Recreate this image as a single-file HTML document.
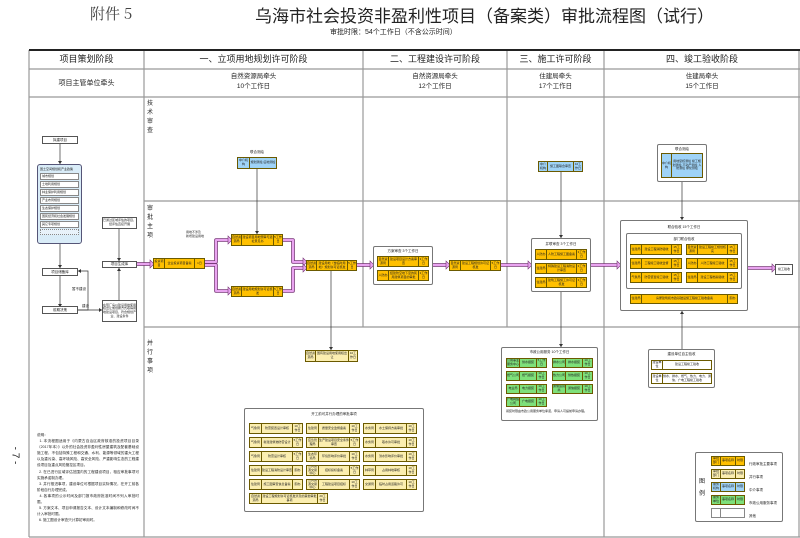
<!DOCTYPE html>
<html><head><meta charset="utf-8"><style>
*{margin:0;padding:0;box-sizing:border-box}
body{width:800px;height:538px;background:#fff;position:relative;overflow:hidden;font-family:"Liberation Sans","Noto Sans CJK SC",sans-serif;color:#222}
.a{position:absolute}
.t{position:absolute;white-space:nowrap;text-align:center}
.bx{position:absolute;border:1px solid #555;background:#fff;font-size:3.5px;display:flex;align-items:center;justify-content:center;text-align:center;line-height:1.2}
.grp{position:absolute;border:1.5px solid #777;background:#fff;border-radius:2px}
.row{position:absolute;display:flex;border:1px solid #6b5a00;font-size:3px;line-height:1.2}
.row div{display:flex;align-items:center;justify-content:center;text-align:center;border-right:1px solid #6b5a00;overflow:hidden}
.row div:last-child{border-right:none}
.o{background:#ffc000}.c{background:#fbeeb0}.b{background:#9fd3f7}.g{background:#7ee07a}
.gt{position:absolute;font-size:3.5px;white-space:nowrap;text-align:center;width:100%}
.vl{position:absolute;font-size:6px;line-height:9px;width:7px}
</style></head><body>
<div class="t" style="left:90px;top:3px;font-size:15px;color:#444;font-family:'Noto Serif CJK SC','Liberation Serif',serif">附件 5</div>
<div class="t" style="left:255px;top:2px;font-size:17px;color:#222;font-family:'Noto Sans CJK SC',sans-serif;letter-spacing:0px">乌海市社会投资非盈利性项目（备案类）审批流程图（试行）</div>
<div class="t" style="left:330px;top:27px;font-size:7px">审批时限：54个工作日（不含公示时间）</div>

<svg class="a" style="left:0;top:0" width="800" height="538">
<g stroke="#999" stroke-width="1.2" fill="none">
<line x1="29" y1="69" x2="800" y2="69"/>
<line x1="29" y1="97" x2="800" y2="97"/>
<line x1="144" y1="201" x2="800" y2="201"/>
<line x1="144" y1="327" x2="800" y2="327"/>
<line x1="29" y1="537" x2="800" y2="537"/>
<line x1="29" y1="50" x2="29" y2="537"/>
<line x1="144" y1="50" x2="144" y2="537"/>
<line x1="363" y1="50" x2="363" y2="327"/>
<line x1="507" y1="50" x2="507" y2="327"/>
<line x1="604" y1="50" x2="604" y2="537"/>
<line x1="799" y1="50" x2="799" y2="537"/>
</g>
<line x1="29" y1="50" x2="800" y2="50" stroke="#222" stroke-width="2"/>
<g stroke="#333" stroke-width="0.7" fill="none">
<line x1="60" y1="143" x2="60" y2="164"/><line x1="60" y1="244" x2="60" y2="268"/>
<line x1="60" y1="275" x2="60" y2="307"/>
<polyline points="78,310 88,310 88,271 78,271"/>
<line x1="78" y1="310" x2="102" y2="310"/>
<line x1="119" y1="300" x2="119" y2="268"/>
<line x1="119" y1="229" x2="119" y2="261"/>
<line x1="257" y1="169" x2="257" y2="234"/>
<line x1="331" y1="271" x2="331" y2="350"/>
<line x1="561" y1="172" x2="561" y2="238"/>
<line x1="561" y1="292" x2="561" y2="347"/>
<line x1="682" y1="182" x2="682" y2="220"/>
<line x1="682" y1="311" x2="682" y2="349"/>
</g>
<g fill="#333">
<polygon points="58,161 62,161 60,164"/><polygon points="58,265 62,265 60,268"/><polygon points="58,304 62,304 60,307"/>
<polygon points="81,269 81,273 78,271"/><polygon points="99,308 99,312 102,310"/>
<polygon points="117,271 121,271 119,268"/><polygon points="117,258 121,258 119,261"/>
<polygon points="255,231 259,231 257,234"/><polygon points="329,347 333,347 331,350"/>
<polygon points="559,235 563,235 561,238"/><polygon points="559,344 563,344 561,347"/>
<polygon points="680,217 684,217 682,220"/><polygon points="680,314 684,314 682,311"/>
</g>
<g fill="none" stroke-linejoin="round">
<g stroke="#7a3a7a" stroke-width="3.6">
<path d="M137,264 H150"/><path d="M205,262 H216 V240 H228"/><path d="M205,265 H216 V291 H228"/>
<path d="M283,240 H293 V262 H303"/><path d="M283,291 H293 V268 H303"/>
<path d="M357,265 H370"/><path d="M433,265 H446"/><path d="M501,265 H528"/><path d="M591,265 H617"/><path d="M748,268 H772"/>
</g>
<g stroke="#e9a3f0" stroke-width="2">
<path d="M137,264 H150"/><path d="M205,262 H216 V240 H228"/><path d="M205,265 H216 V291 H228"/>
<path d="M283,240 H293 V262 H303"/><path d="M283,291 H293 V268 H303"/>
<path d="M357,265 H370"/><path d="M433,265 H446"/><path d="M501,265 H528"/><path d="M591,265 H617"/><path d="M748,268 H772"/>
</g>
</g>
<g fill="#e9a3f0" stroke="#7a3a7a" stroke-width="0.6">
<polygon points="150,260 154,264 150,268"/><polygon points="228,236 232,240 228,244"/><polygon points="228,287 232,291 228,295"/>
<polygon points="303,258 307,262 303,266"/><polygon points="303,264 307,268 303,272"/>
<polygon points="370,261 374,265 370,269"/><polygon points="446,261 450,265 446,269"/><polygon points="528,261 532,265 528,269"/>
<polygon points="617,261 621,265 617,269"/><polygon points="772,264 776,268 772,272"/>
</g>
</svg>

<!-- header -->
<div class="t" style="left:29px;top:52px;width:115px;font-size:9px">项目策划阶段</div>
<div class="t" style="left:144px;top:52px;width:219px;font-size:9px">一、立项用地规划许可阶段</div>
<div class="t" style="left:363px;top:52px;width:144px;font-size:9px">二、工程建设许可阶段</div>
<div class="t" style="left:507px;top:52px;width:97px;font-size:9px">三、施工许可阶段</div>
<div class="t" style="left:604px;top:52px;width:196px;font-size:9px">四、竣工验收阶段</div>
<div class="t" style="left:29px;top:78px;width:115px;font-size:7px">项目主管单位牵头</div>
<div class="t" style="left:144px;top:72px;width:219px;font-size:6.5px;line-height:10px">自然资源局牵头<br>10个工作日</div>
<div class="t" style="left:363px;top:72px;width:144px;font-size:6.5px;line-height:10px">自然资源局牵头<br>12个工作日</div>
<div class="t" style="left:507px;top:72px;width:97px;font-size:6.5px;line-height:10px">住建局牵头<br>17个工作日</div>
<div class="t" style="left:604px;top:72px;width:196px;font-size:6.5px;line-height:10px">住建局牵头<br>15个工作日</div>
<div class="vl a" style="left:147px;top:100px">技<br>术<br>审<br>查</div>
<div class="vl a" style="left:147px;top:205px">审<br>批<br>主<br>项</div>
<div class="vl a" style="left:147px;top:340px">并<br>行<br>事<br>项</div>

<!-- column 1 -->
<div class="bx" style="left:42px;top:136px;width:36px;height:8px">拟建项目</div>
<div class="a" style="left:37px;top:164px;width:45px;height:80px;border:1px solid #557;border-radius:3px;background:#d9ecf8"></div>
<div class="a" style="left:40px;top:167px;font-size:3px">国土空间规划和产业政策</div>
<div class="a" style="left:40px;top:173px;width:39px;font-size:3px">
<div style="background:#fff;border:1px solid #888;height:7px;margin-bottom:1px;padding-left:1px">城市规划</div>
<div style="background:#fff;border:1px solid #888;height:7px;margin-bottom:1px;padding-left:1px">土地利用规划</div>
<div style="background:#fff;border:1px solid #888;height:7px;margin-bottom:1px;padding-left:1px">林业保护利用规划</div>
<div style="background:#fff;border:1px solid #888;height:7px;margin-bottom:1px;padding-left:1px">产业布局规划</div>
<div style="background:#fff;border:1px solid #888;height:7px;margin-bottom:1px;padding-left:1px">生态保护规划</div>
<div style="background:#fff;border:1px solid #888;height:7px;margin-bottom:1px;padding-left:1px">国民经济和社会发展规划</div>
<div style="background:#fff;border:1px solid #888;height:7px;margin-bottom:1px;padding-left:1px">其它专项规划</div>
<div style="background:#e8f2fa;border:1px dotted #888;height:6px"></div>
</div>
<div class="bx" style="left:42px;top:268px;width:36px;height:8px">项目储备库</div>
<div class="bx" style="left:42px;top:306px;width:36px;height:8px">前期决策</div>
<div class="a" style="left:72px;top:287px;font-size:3.5px">暂不建设</div>
<div class="a" style="left:82px;top:304px;font-size:3.5px">建设</div>
<div class="bx" style="left:102px;top:217px;width:35px;height:12px;font-size:3px">已通过区域评估的项目，经评估直接开展</div>
<div class="bx" style="left:102px;top:261px;width:35px;height:7px">项目生成库</div>
<div class="bx" style="left:102px;top:300px;width:35px;height:22px;font-size:3px">在现厂房以建设用地使用权出让或划拨方式取得用地建设项目，符合规划产业、建设条件</div>

<!-- stage 1 -->
<div class="a" style="left:237px;top:150px;width:40px;font-size:3.5px;text-align:center">联合测绘</div>
<div class="row b" style="left:237px;top:157px;width:40px;height:12px"><div style="width:12px">中介机构</div><div style="flex:1">规划测绘 征地测绘</div></div>
<div class="row o" style="left:153px;top:258px;width:52px;height:11px"><div style="width:11px">投资项目</div><div style="flex:1">企业投资项目备案</div><div style="width:9px">1日</div></div>
<div class="a" style="left:186px;top:231px;font-size:3px;line-height:1.2">用地不涉及<br>新增建设用地</div>
<div class="row o" style="left:231px;top:234px;width:52px;height:12px"><div style="width:10px">自然资源局</div><div style="flex:1">建设项目用地预审与选址意见书</div><div style="width:8px">5工作日</div></div>
<div class="row o" style="left:231px;top:286px;width:52px;height:11px"><div style="width:10px">自然资源局</div><div style="flex:1">建设用地规划许可证核发</div><div style="width:8px">5工作日</div></div>
<div class="row o" style="left:306px;top:260px;width:51px;height:11px"><div style="width:10px">自然资源局</div><div style="flex:1">建设用地（含临时用地）规划许可证核发</div><div style="width:8px">5工作日</div></div>
<div class="row c" style="left:305px;top:350px;width:53px;height:12px"><div style="width:10px">自然资源局</div><div style="flex:1">国有建设用地使用权出让</div><div style="width:8px">10工作日</div></div>

<!-- parallel big cream box -->
<div class="grp" style="left:244px;top:408px;width:180px;height:104px"></div>
<div class="a" style="left:244px;top:412px;width:180px;font-size:3.5px;text-align:center">开工前可并行办理的审批事项</div>
<div class="a" style="left:249px;top:423px;width:175px">
<div style="display:flex;gap:3px;margin-bottom:3px">
<div class="row c" style="position:relative;width:54px;height:11px"><div style="width:12px">气象局</div><div style="flex:1">防雷装置设计审核</div><div style="width:9px">10工作日</div></div>
<div class="row c" style="position:relative;width:54px;height:11px"><div style="width:12px">住建局</div><div style="flex:1">质量安全监督备案</div><div style="width:9px">10工作日</div></div>
<div class="row c" style="position:relative;width:54px;height:11px"><div style="width:12px">水务局</div><div style="flex:1">水土保持方案审批</div><div style="width:9px">10工作日</div></div></div>
<div style="display:flex;gap:3px;margin-bottom:3px">
<div class="row c" style="position:relative;width:54px;height:11px"><div style="width:12px">气象局</div><div style="flex:1">新建建筑物防雷设计</div><div style="width:9px">5工作日</div></div>
<div class="row c" style="position:relative;width:54px;height:11px"><div style="width:12px">应急管理局</div><div style="flex:1">生产建设项目安全条件审查</div><div style="width:9px">5工作日</div></div>
<div class="row c" style="position:relative;width:54px;height:11px"><div style="width:12px">水务局</div><div style="flex:1">取水许可审批</div><div style="width:9px">10工作日</div></div></div>
<div style="display:flex;gap:3px;margin-bottom:3px">
<div class="row c" style="position:relative;width:54px;height:11px"><div style="width:12px">气象局</div><div style="flex:1">防雷设计审核</div><div style="width:9px">5工作日</div></div>
<div class="row c" style="position:relative;width:54px;height:11px"><div style="width:12px">生态环境局</div><div style="flex:1">环境影响评价审批</div><div style="width:9px">10工作日</div></div>
<div class="row c" style="position:relative;width:54px;height:11px"><div style="width:12px">水务局</div><div style="flex:1">洪水影响评价审批</div><div style="width:9px">10工作日</div></div></div>
<div style="display:flex;gap:3px;margin-bottom:3px">
<div class="row c" style="position:relative;width:54px;height:11px"><div style="width:12px">住建局</div><div style="flex:1">建设工程消防设计审查</div><div style="width:9px">即办</div></div>
<div class="row c" style="position:relative;width:54px;height:11px"><div style="width:12px">公共资源交易中心</div><div style="flex:1">招标投标备案</div><div style="width:9px">5工作日</div></div>
<div class="row c" style="position:relative;width:54px;height:11px"><div style="width:12px">林草局</div><div style="flex:1">占用林地审核</div><div style="width:9px">10工作日</div></div></div>
<div style="display:flex;gap:3px;margin-bottom:3px">
<div class="row c" style="position:relative;width:54px;height:11px"><div style="width:12px">住建局</div><div style="flex:1">施工图审查信息备案</div><div style="width:9px">即办</div></div>
<div class="row c" style="position:relative;width:54px;height:11px"><div style="width:12px">公共资源交易中心</div><div style="flex:1">工程建设项目招标</div><div style="width:9px">10工作日</div></div>
<div class="row c" style="position:relative;width:54px;height:11px"><div style="width:12px">交通局</div><div style="flex:1">临时占用道路许可</div><div style="width:9px">10工作日</div></div></div>
<div class="row c" style="position:relative;width:79px;height:11px"><div style="width:12px">自然资源局</div><div style="flex:1">建设工程规划许可证核发涉及的其他审批事项</div><div style="width:9px">20工作日</div></div>
</div>

<!-- stage 2 -->
<div class="grp" style="left:373px;top:246px;width:60px;height:39px"></div>
<div class="a" style="left:373px;top:249px;width:60px;font-size:3.5px;text-align:center">方案审查 3个工作日</div>
<div class="row o" style="left:377px;top:256px;width:52px;height:11px"><div style="width:11px">自然资源局</div><div style="flex:1">建设项目设计方案审查</div><div style="width:9px">3工作日</div></div>
<div class="row o" style="left:377px;top:270px;width:52px;height:11px"><div style="width:11px">人防办</div><div style="flex:1">结建防空地下室的民用建筑项目的审批</div><div style="width:9px">3工作日</div></div>
<div class="row o" style="left:449px;top:260px;width:52px;height:11px"><div style="width:11px">自然资源局</div><div style="flex:1">建设工程规划许可证核发</div><div style="width:9px">5工作日</div></div>

<!-- stage 3 -->
<div class="row b" style="left:538px;top:161px;width:45px;height:11px"><div style="width:9px">中介机构</div><div style="flex:1">施工图联合审查</div><div style="width:8px">10工作日</div></div>
<div class="grp" style="left:531px;top:238px;width:60px;height:54px"></div>
<div class="a" style="left:531px;top:242px;width:60px;font-size:3.5px;text-align:center">并联审查 3个工作日</div>
<div class="row o" style="left:535px;top:249px;width:52px;height:11px"><div style="width:11px">人防办</div><div style="flex:1">人防工程施工图备案</div><div style="width:9px">3工作日</div></div>
<div class="row o" style="left:535px;top:263px;width:52px;height:11px"><div style="width:11px">住建局</div><div style="flex:1">特殊建设工程消防设计审查</div><div style="width:9px">3工作日</div></div>
<div class="row o" style="left:535px;top:277px;width:52px;height:11px"><div style="width:11px">住建局</div><div style="flex:1">建筑工程施工许可证核发</div><div style="width:9px">3工作日</div></div>

<div class="grp" style="left:501px;top:347px;width:97px;height:74px"></div>
<div class="a" style="left:501px;top:350px;width:97px;font-size:3.5px;text-align:center">市政公用服务 10个工作日</div>
<div class="row g" style="left:506px;top:358px;width:41px;height:10px"><div style="width:13px">公用事业服务中心</div><div style="flex:1">供水报装</div><div style="width:9px">5工作日</div></div>
<div class="row g" style="left:552px;top:358px;width:41px;height:10px"><div style="width:13px">排水公司</div><div style="flex:1">排水报装</div><div style="width:9px">10工作日</div></div>
<div class="row g" style="left:506px;top:371px;width:41px;height:10px"><div style="width:13px">燃气公司</div><div style="flex:1">燃气报装</div><div style="width:9px">10工作日</div></div>
<div class="row g" style="left:552px;top:371px;width:41px;height:10px"><div style="width:13px">热力公司</div><div style="flex:1">供热报装</div><div style="width:9px">10工作日</div></div>
<div class="row g" style="left:506px;top:384px;width:41px;height:10px"><div style="width:13px">电业局</div><div style="flex:1">电力报装</div><div style="width:9px">10工作日</div></div>
<div class="row g" style="left:552px;top:384px;width:41px;height:10px"><div style="width:13px">通信运营商</div><div style="flex:1">通信报装</div><div style="width:9px">10工作日</div></div>
<div class="row g" style="left:506px;top:397px;width:41px;height:10px"><div style="width:13px">广电网络公司</div><div style="flex:1">广电报装</div><div style="width:9px">10工作日</div></div>
<div class="a" style="left:506px;top:410px;width:90px;font-size:3px;line-height:1.3">報装时限由市政公用服务单位承诺，申请人可提前申请办理。</div>

<!-- stage 4 -->
<div class="grp" style="left:657px;top:144px;width:50px;height:38px"></div>
<div class="a" style="left:657px;top:147px;width:50px;font-size:3.5px;text-align:center">联合测绘</div>
<div class="row b" style="left:661px;top:153px;width:42px;height:25px"><div style="width:10px">中介机构</div><div style="flex:1">用地复核测绘 竣工规划测绘 不动产测绘 人防测绘 绿化测绘</div></div>
<div class="grp" style="left:620px;top:220px;width:128px;height:91px"></div>
<div class="a" style="left:620px;top:225px;width:128px;font-size:3.5px;text-align:center">联合验收 15个工作日</div>
<div class="grp" style="left:626px;top:233px;width:116px;height:56px;border-width:1px"></div>
<div class="a" style="left:626px;top:237px;width:116px;font-size:3.5px;text-align:center">部门联合验收</div>
<div class="row o" style="left:630px;top:244px;width:52px;height:11px"><div style="width:11px">住建局</div><div style="flex:1">建设工程消防验收</div><div style="width:9px">15工作日</div></div>
<div class="row o" style="left:686px;top:244px;width:52px;height:11px"><div style="width:11px">自然资源局</div><div style="flex:1">建设工程竣工规划核实</div><div style="width:9px">15工作日</div></div>
<div class="row o" style="left:630px;top:258px;width:52px;height:11px"><div style="width:11px">住建局</div><div style="flex:1">工程竣工验收监督</div><div style="width:9px">15工作日</div></div>
<div class="row o" style="left:686px;top:258px;width:52px;height:11px"><div style="width:11px">人防办</div><div style="flex:1">人防工程竣工验收</div><div style="width:9px">15工作日</div></div>
<div class="row o" style="left:630px;top:272px;width:52px;height:11px"><div style="width:11px">气象局</div><div style="flex:1">防雷装置竣工验收</div><div style="width:9px">15工作日</div></div>
<div class="row o" style="left:686px;top:272px;width:52px;height:11px"><div style="width:11px">住建局</div><div style="flex:1">建设工程档案验收</div><div style="width:9px">15工作日</div></div>
<div class="row o" style="left:630px;top:294px;width:108px;height:10px"><div style="width:11px">住建局</div><div style="flex:1">房屋建筑和市政基础设施工程竣工验收备案</div><div style="width:9px">即办</div></div>
<div class="bx" style="left:775px;top:264px;width:18px;height:11px;font-size:3px">竣工验收</div>
<div class="grp" style="left:648px;top:349px;width:67px;height:39px"></div>
<div class="a" style="left:648px;top:352px;width:67px;font-size:3.5px;text-align:center">建设单位自主验收</div>
<div class="row" style="left:651px;top:360px;width:61px;height:10px;background:#fff"><div style="width:11px">建设单位</div><div style="flex:1">建设工程竣工验收</div></div>
<div class="row" style="left:651px;top:373px;width:61px;height:11px;background:#fff"><div style="width:11px">建设单位</div><div style="flex:1">供水、排水、燃气、热力、电力、通信、广电工程竣工验收</div></div>

<!-- legend -->
<div class="grp" style="left:695px;top:452px;width:88px;height:70px"></div>
<div class="a" style="left:699px;top:476px;font-size:6px;line-height:12px">图<br>例</div>
<div class="row o" style="left:711px;top:456px;width:34px;height:10px"><div style="width:9px">审批部门</div><div style="flex:1">事项名称</div><div style="width:8px">时限</div></div>
<div class="row c" style="left:711px;top:469px;width:34px;height:10px"><div style="width:9px">审批部门</div><div style="flex:1">事项名称</div><div style="width:8px">时限</div></div>
<div class="row b" style="left:711px;top:482px;width:34px;height:10px"><div style="width:9px">服务机构</div><div style="flex:1">事项名称</div><div style="width:8px">时限</div></div>
<div class="row g" style="left:711px;top:495px;width:34px;height:10px"><div style="width:9px">服务单位</div><div style="flex:1">事项名称</div><div style="width:8px">时限</div></div>
<div class="row" style="left:711px;top:508px;width:34px;height:10px;background:#fff;border-color:#888"><div style="width:9px;border-color:#888"></div><div style="flex:1"></div></div>
<div class="a" style="left:749px;top:458px;font-size:3.5px;line-height:13px">行政审批主要事项<br>并行事项<br>中介事项<br>市政公用服务事项<br>其他</div>

<!-- notes -->
<div class="a" style="left:37px;top:432px;width:102px;font-size:3.6px;line-height:6.1px;text-align:justify">说明：<br>&nbsp;&nbsp;1. 本流程图适用于《内蒙古自治区政府核准的投资项目目录（2017年本）》以外的社会投资非盈利性房屋建筑及配套基础设施工程，不包括特殊工程和交通、水利、能源等领域的重大工程以及重污染、高环境风险、高安全风险、严重影响生态的工程建设项目及重点风险管控区项目。<br>&nbsp;&nbsp;2. 在已进行区域评估范围内的工程建设项目，相应审批事项可实施承诺制办理。<br>&nbsp;&nbsp;3. 并行推进事项，建设单位可根据项目实际情况，在开工前各阶段自行办理完成。<br>&nbsp;&nbsp;4. 各事项的公示时间及部门报市政府批准时间不列入审批时限。<br>&nbsp;&nbsp;5. 方案文本、项目申请报告文本、设计文本编制和修改时间不计入审批时限。<br>&nbsp;&nbsp;6. 施工图设计审查只计算初审用时。</div>
<div class="a" style="left:5px;top:450px;font-size:10px;transform:rotate(90deg);transform-origin:center;width:20px;text-align:center">- 7 -</div>
</body></html>
